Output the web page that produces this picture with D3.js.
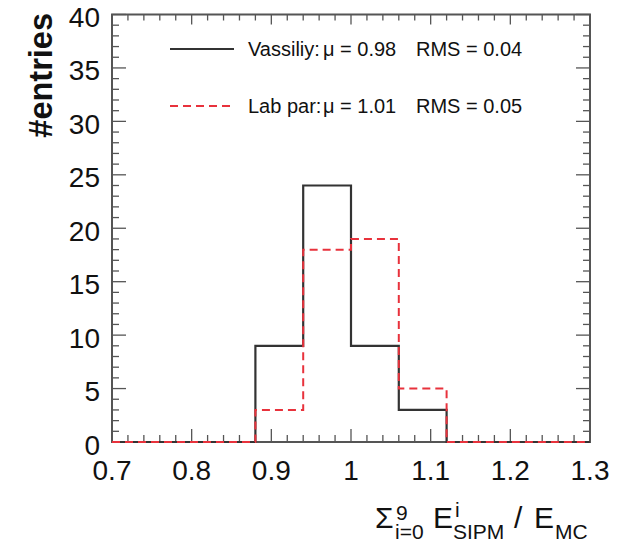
<!DOCTYPE html>
<html><head><meta charset="utf-8">
<script src="https://cdn.jsdelivr.net/npm/d3@7"></script>
<style>
html,body{margin:0;padding:0;background:#fff;}
svg{display:block;font-family:"Liberation Sans",Arial,Helvetica,sans-serif;}
</style></head>
<body>
<svg id="c" width="630" height="543"></svg>
<script>
// ---- data ----
const binEdges = [0.70, 0.76, 0.82, 0.88, 0.94, 1.00, 1.06, 1.12, 1.18, 1.24, 1.30];
const vassiliy = [0, 0, 0, 9, 24, 9, 3, 0, 0, 0];
const labPar   = [0, 0, 0, 3, 18, 19, 5, 0, 0, 0];
const xTickLabels = ["0.7", "0.8", "0.9", "1", "1.1", "1.2", "1.3"];
const yTickLabels = ["0", "5", "10", "15", "20", "25", "30", "35", "40"];
const legendNames = ["Vassiliy:", "Lab par:"];
const legendMu = ["0.98", "1.01"];
const legendRms = ["0.04", "0.05"];

// ---- layout ----
const L = 112, R = 590, T = 14.5, B = 442;
const svg = d3.select("#c");
const x = d3.scaleLinear().domain([0.7, 1.3]).range([L, R]);
const y = d3.scaleLinear().domain([0, 40]).range([B, T]);
const frameCol = "#555";

// ticks
const xMinor = d3.range(0, 31).map(k => 0.7 + k * 0.02);
const yMinor = d3.range(0, 41);
const tk = svg.append("g").attr("stroke", frameCol).attr("stroke-width", 1.3);
xMinor.forEach((v, k) => {
  const len = (k % 5 === 0) ? 13 : 7;
  const lenTop = (k % 5 === 0) ? 10 : 6;
  tk.append("line").attr("x1", x(v)).attr("x2", x(v)).attr("y1", B).attr("y2", B - len);
  tk.append("line").attr("x1", x(v)).attr("x2", x(v)).attr("y1", T).attr("y2", T + lenTop);
});
yMinor.forEach(v => {
  const len = (v % 5 === 0) ? 14 : 7;
  tk.append("line").attr("x1", L).attr("x2", L + len).attr("y1", y(v)).attr("y2", y(v));
  tk.append("line").attr("x1", R).attr("x2", R - len).attr("y1", y(v)).attr("y2", y(v));
});

// frame
svg.append("rect").attr("x", L).attr("y", T).attr("width", R - L).attr("height", B - T)
  .attr("fill", "none").attr("stroke", frameCol).attr("stroke-width", 2);

// histograms
function histPts(vals) {
  return binEdges.map((e, i) => [e, vals[Math.min(i, vals.length - 1)]]);
}
const line = d3.line().x(d => x(d[0])).y(d => y(d[1])).curve(d3.curveStepAfter);

svg.append("path").attr("d", line(histPts(vassiliy)))
  .attr("fill", "none").attr("stroke", "#333").attr("stroke-width", 2.2);
svg.append("path").attr("d", line(histPts(labPar)))
  .attr("fill", "none").attr("stroke", "#e8323c").attr("stroke-width", 2)
  .attr("stroke-dasharray", "8,5");

// tick labels
svg.append("g").selectAll("text").data(xTickLabels).join("text")
  .attr("x", d => x(+d)).attr("y", B + 38).attr("text-anchor", "middle")
  .attr("font-size", 28).attr("fill", "#111").text(d => d);
svg.append("g").selectAll("text").data(yTickLabels).join("text")
  .attr("x", 100).attr("y", d => y(+d) + 12.5).attr("text-anchor", "end")
  .attr("font-size", 28).attr("fill", "#111").text(d => d);

// y title
svg.append("text").attr("transform", "translate(52,13) rotate(-90)")
  .attr("text-anchor", "end").attr("font-size", 32.5).attr("font-weight", "bold")
  .attr("fill", "#111").text("#entries");

// x title
const xt = svg.append("g").attr("fill", "#111");
const big = 30, small = 21;
[["\u03A3", 375, 528, big], ["9", 396, 520, small], ["i=0", 395, 539, small],
 ["E", 433, 528, big], ["i", 455, 517, small], ["SIPM", 453, 539, small],
 ["/", 514, 528, big], ["E", 534, 528, big], ["MC", 555, 539, small]]
 .forEach(p => xt.append("text").attr("x", p[1]).attr("y", p[2]).attr("font-size", p[3]).text(p[0]));

// legend
const legY = [49, 106];
const lg = svg.append("g");
lg.append("line").attr("x1", 170).attr("x2", 234).attr("y1", legY[0]).attr("y2", legY[0])
  .attr("stroke", "#333").attr("stroke-width", 2);
lg.append("line").attr("x1", 170).attr("x2", 234).attr("y1", legY[1]).attr("y2", legY[1])
  .attr("stroke", "#e8323c").attr("stroke-width", 2).attr("stroke-dasharray", "8,5");
legendNames.forEach((n, i) => {
  const by = legY[i] + 6.5;
  lg.append("text").attr("x", 248).attr("y", by).attr("font-size", 20).attr("fill", "#111").text(n);
  lg.append("text").attr("x", 323).attr("y", by).attr("font-size", 20).attr("fill", "#111")
    .text("\u03BC = " + legendMu[i]);
  lg.append("text").attr("x", 416).attr("y", by).attr("font-size", 20).attr("fill", "#111")
    .text("RMS = " + legendRms[i]);
});
</script>
</body></html>
